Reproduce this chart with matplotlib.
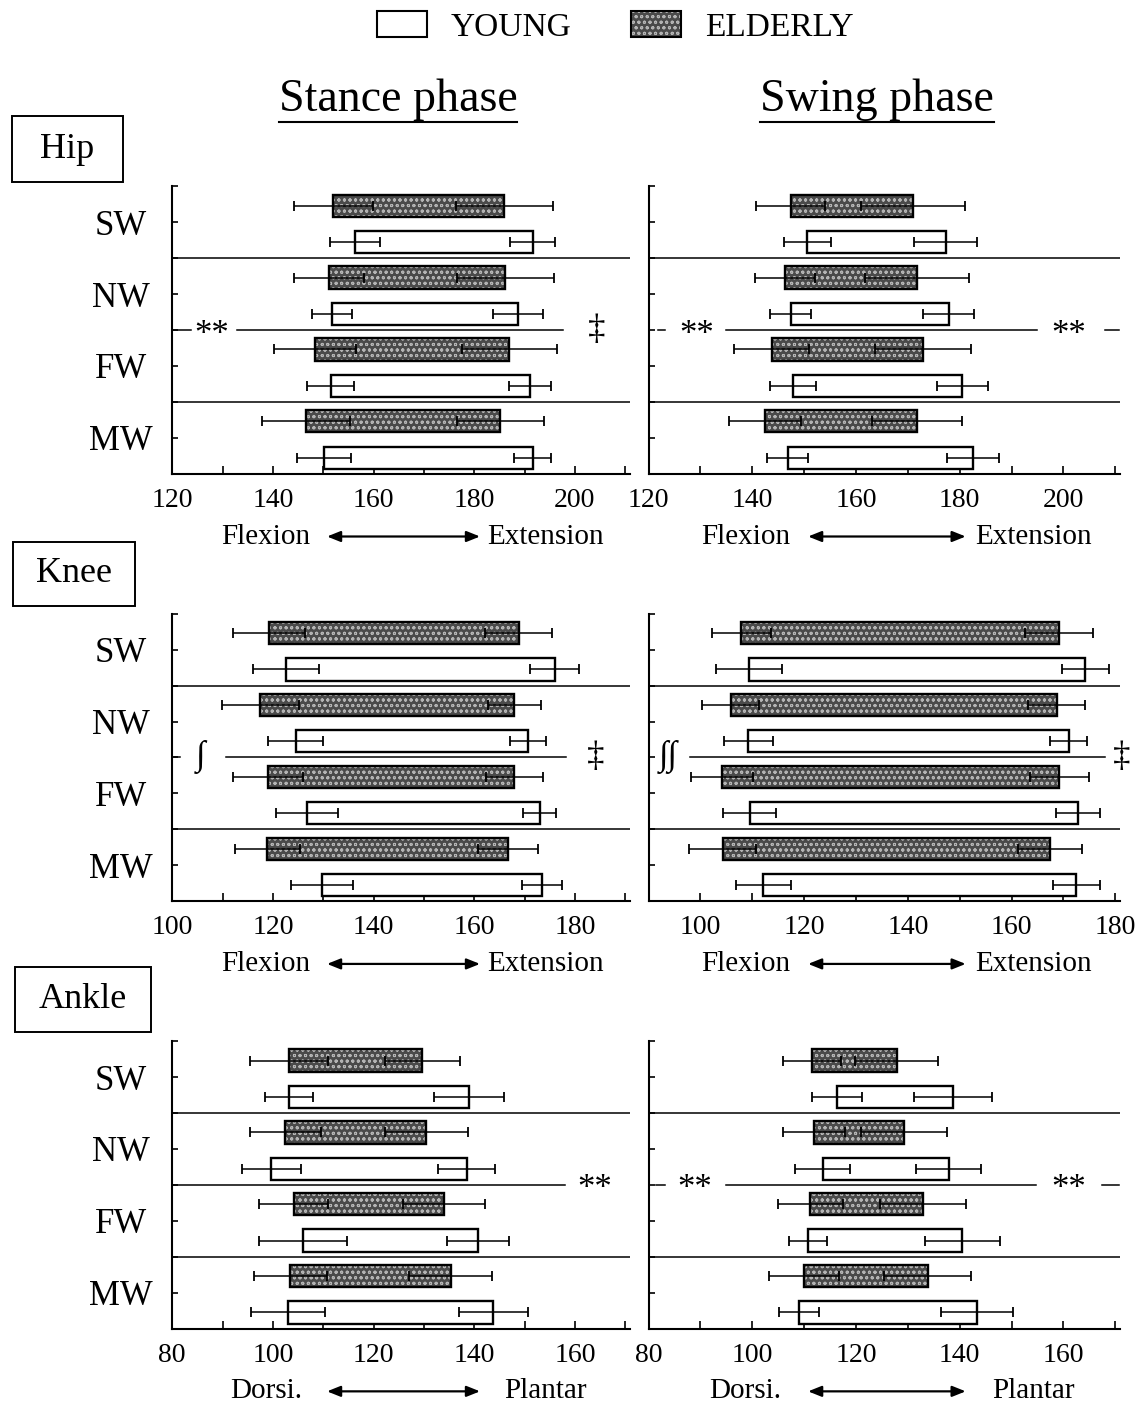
import numpy as np
import matplotlib
matplotlib.use('Agg')
import matplotlib.pyplot as plt
from matplotlib.patches import Patch, Rectangle
from matplotlib.lines import Line2D
from matplotlib.legend_handler import HandlerTuple
from matplotlib.ticker import MultipleLocator

plt.rcParams['font.family'] = ['Liberation Serif', 'DejaVu Serif']
plt.rcParams['hatch.linewidth'] = 0.7

conditions = ['SW', 'NW', 'FW', 'MW']
joints = ['Hip', 'Knee', 'Ankle']
phases = ['Stance phase', 'Swing phase']

# per condition: (min angle mean, SD, max angle mean, SD) in degrees
hip_stance_young = [(156.3, 5.0, 191.6, 4.5), (151.8, 4.0, 188.7, 4.9),
                    (151.5, 4.7, 191.1, 4.2), (150.2, 5.4, 191.6, 3.7)]
hip_stance_elderly = [(152.0, 7.8, 186.0, 9.6), (151.2, 7.0, 186.2, 9.7),
                      (148.4, 8.2, 187.0, 9.4), (146.6, 8.7, 185.2, 8.6)]
hip_swing_young = [(150.6, 4.5, 177.3, 6.1), (147.4, 3.9, 177.9, 4.9),
                   (147.9, 4.4, 180.5, 4.9), (146.8, 4.0, 182.6, 5.0)]
hip_swing_elderly = [(147.4, 6.7, 171.0, 10.0), (146.3, 5.8, 171.7, 10.0),
                     (143.7, 7.2, 172.9, 9.2), (142.4, 6.9, 171.8, 8.7)]
knee_stance_young = [(122.6, 6.6, 176.0, 4.9), (124.5, 5.5, 170.7, 3.5),
                     (126.8, 6.2, 173.0, 3.3), (129.8, 6.1, 173.5, 4.0)]
knee_stance_elderly = [(119.2, 7.2, 168.8, 6.6), (117.5, 7.6, 168.0, 5.2),
                       (119.0, 6.9, 168.0, 5.6), (118.9, 6.5, 166.7, 6.0)]
knee_swing_young = [(109.3, 6.4, 174.2, 4.5), (109.2, 4.7, 171.0, 3.5),
                    (109.5, 5.1, 172.8, 4.3), (112.1, 5.3, 172.5, 4.6)]
knee_swing_elderly = [(107.9, 5.7, 169.1, 6.6), (105.8, 5.5, 168.7, 5.5),
                      (104.1, 6.0, 169.2, 5.7), (104.3, 6.5, 167.4, 6.2)]
ankle_stance_young = [(103.2, 4.8, 139.0, 6.9), (99.7, 5.8, 138.5, 5.6),
                      (106.0, 8.8, 140.8, 6.2), (103.0, 7.4, 143.8, 6.8)]
ankle_stance_elderly = [(103.2, 7.7, 129.7, 7.4), (102.5, 7.0, 130.5, 8.3),
                        (104.1, 6.9, 134.0, 8.1), (103.5, 7.3, 135.3, 8.3)]
ankle_swing_young = [(116.4, 4.8, 138.7, 7.6), (113.6, 5.3, 137.9, 6.3),
                     (110.7, 3.7, 140.5, 7.2), (109.0, 3.9, 143.3, 6.9)]
ankle_swing_elderly = [(111.5, 5.6, 127.9, 8.0), (111.9, 6.0, 129.2, 8.3),
                       (111.2, 6.3, 132.9, 8.3), (110.0, 6.7, 133.8, 8.4)]

xlims = [[(120, 211), (120, 211)],
         [(100, 191), (90, 181)],
         [(80, 171), (80, 171)]]
direction_words = [('Flexion', 'Extension'), ('Flexion', 'Extension'), ('Dorsi.', 'Plantar')]

# significance marks on the NW/FW line: line pieces and (x, text) in axes fraction
sig_lines = [[[(0.0, 0.04), (0.142, 0.854)], [(0.02, 0.034), (0.165, 0.824), (0.968, 0.996)]],
             [[(0.005, 0.016), (0.118, 0.859)], [(0.088, 0.968)]],
             [[(0.0, 0.857)], [(0.016, 0.035), (0.164, 0.82), (0.96, 0.997)]]]
sig_marks = [[[(0.087, '**'), (0.926, '‡')], [(0.101, '**'), (0.89, '**')]],
             [[(0.063, '∫'), (0.925, '‡')], [(0.042, '∫∫'), (1.003, '‡')]],
             [[(0.923, '**')], [(0.098, '**'), (0.89, '**')]]]

data = [[(hip_stance_young, hip_stance_elderly), (hip_swing_young, hip_swing_elderly)],
        [(knee_stance_young, knee_stance_elderly), (knee_swing_young, knee_swing_elderly)],
        [(ankle_stance_young, ankle_stance_elderly), (ankle_swing_young, ankle_swing_elderly)]]

elderly_fill = dict(facecolor='#4a4a4a', hatch='ooo', edgecolor='#b4b4b4', linewidth=0)

W, H = 1148, 1406
fig = plt.figure(figsize=(W / 100, H / 100), dpi=100)

lefts = [0.150, 0.565]
widths = [0.399, 0.411]
bottoms = [0.663, 0.359, 0.055]
height = 0.2045

y = np.arange(4)
y_eld = y + 0.27
y_yng = y + 0.775
bar_h = 0.31

for r in range(3):
    for c in range(2):
        ax = fig.add_axes([lefts[c], bottoms[r], widths[c], height])
        young = np.array(data[r][c][0])
        elderly = np.array(data[r][c][1])

        ax.barh(y_eld, elderly[:, 2] - elderly[:, 0], left=elderly[:, 0], height=bar_h,
                zorder=2, **elderly_fill)
        ax.barh(y_eld, elderly[:, 2] - elderly[:, 0], left=elderly[:, 0], height=bar_h,
                fill=False, edgecolor='black', linewidth=1.7, zorder=3)
        ax.barh(y_yng, young[:, 2] - young[:, 0], left=young[:, 0], height=bar_h,
                facecolor='white', edgecolor='black', linewidth=1.7, zorder=2)

        for d, yc in ((elderly, y_eld), (young, y_yng)):
            ax.errorbar(d[:, 0], yc, xerr=d[:, 1], fmt='none', ecolor='black',
                        elinewidth=1.1, capsize=3.8, capthick=1.3, zorder=4)
            ax.errorbar(d[:, 2], yc, xerr=d[:, 3], fmt='none', ecolor='black',
                        elinewidth=1.1, capsize=3.8, capthick=1.3, zorder=4)

        # group separators
        ax.axhline(1, color='black', lw=1.1, zorder=1)
        ax.axhline(3, color='black', lw=1.1, zorder=1)
        tr = ax.get_yaxis_transform()
        for x0, x1 in sig_lines[r][c]:
            ax.plot([x0, x1], [2, 2], color='black', lw=1.1, transform=tr, clip_on=False)
        for xm, txt in sig_marks[r][c]:
            if txt == '**':
                ax.text(xm, 2.07, txt, transform=tr, ha='center', va='center',
                        fontsize=25, clip_on=False)
            else:
                ax.text(xm, 2, txt, transform=tr, ha='center', va='center',
                        fontsize=25, clip_on=False)

        ax.set_xlim(xlims[r][c])
        ax.set_ylim(4, 0)
        ax.xaxis.set_major_locator(MultipleLocator(20))
        ax.xaxis.set_minor_locator(MultipleLocator(10))
        ax.set_yticks(y + 0.5)
        ax.set_yticks(y, minor=True)
        if c == 0:
            ax.set_yticklabels(conditions, fontsize=25)
            for lbl in ax.get_yticklabels():
                lbl.set_horizontalalignment('center')
        else:
            ax.set_yticklabels([])
        ax.tick_params(axis='x', which='both', direction='in', length=6, width=1.2,
                       labelsize=20, pad=10)
        ax.tick_params(axis='y', which='both', direction='in', length=4, width=1.2, pad=37)
        for s in ['top', 'right']:
            ax.spines[s].set_visible(False)
        for s in ['left', 'bottom']:
            ax.spines[s].set_linewidth(1.5)

        # direction labels under the axis
        left_word, right_word = direction_words[r]
        ax.text(0.205, -0.218, left_word, transform=ax.transAxes, ha='center', va='center',
                fontsize=21)
        ax.text(0.815, -0.218, right_word, transform=ax.transAxes, ha='center', va='center',
                fontsize=21)
        ax.annotate('', xy=(0.672, -0.218), xytext=(0.338, -0.218), xycoords='axes fraction',
                    arrowprops=dict(arrowstyle='<|-|>,head_length=0.8,head_width=0.32',
                                    color='black', lw=1.6, shrinkA=0, shrinkB=0))

# joint name boxes (pixel corners)
boxes = [(12, 116, 123, 182), (13, 542, 135, 606), (15, 967, 151, 1032)]
for name, (x0, y0, x1, y1) in zip(joints, boxes):
    fig.add_artist(Rectangle((x0 / W, 1 - y1 / H), (x1 - x0) / W, (y1 - y0) / H,
                             transform=fig.transFigure, fill=False, edgecolor='black', lw=1.4))
    fig.text((x0 + x1) / 2 / W, 1 - (y0 + y1) / 2 / H, name, ha='center', va='center',
             fontsize=26)

# phase titles, underlined
titles = []
for xc, txt in zip([398, 877], phases):
    titles.append(fig.text(xc / W, 1 - 111 / H, txt, ha='center', va='baseline', fontsize=33))

# legend
young_patch = Patch(facecolor='white', edgecolor='black', lw=1.5)
eld_patch = (Patch(**elderly_fill), Patch(fill=False, edgecolor='black', lw=1.5))
fig.legend([young_patch, eld_patch], ['YOUNG', 'ELDERLY'],
           handler_map={tuple: HandlerTuple(ndivide=1, pad=0)}, ncol=2, loc='center',
           bbox_to_anchor=(0.536, 0.981), frameon=False, fontsize=24,
           handlelength=1.5, handleheight=0.85, handletextpad=0.7, columnspacing=1.8)

fig.canvas.draw()
renderer = fig.canvas.get_renderer()
for t in titles:
    bb = t.get_window_extent(renderer)
    fig.add_artist(Line2D([bb.x0 / W, bb.x1 / W], [(bb.y0 - 1) / H] * 2,
                          transform=fig.transFigure, color='black', lw=1.5))

fig.savefig('out.png', dpi=100)
